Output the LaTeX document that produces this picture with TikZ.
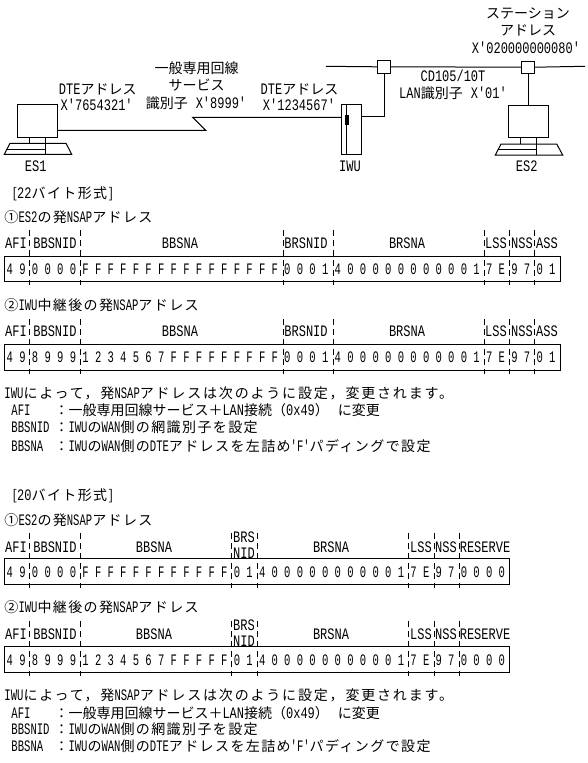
\documentclass[tikz,border=0pt]{standalone}
\usepackage{fontspec}
\setmainfont{Noto Sans CJK JP}
\newfontfamily\dsA[LetterSpace=10]{Noto Sans CJK JP}
\newfontfamily\dsB[LetterSpace=13]{Noto Sans CJK JP}
\newfontfamily\lf[FakeStretch=0.75]{Liberation Mono}
\newfontfamily\lfn[FakeStretch=0.66]{Liberation Mono}
\newfontfamily\dg[FakeStretch=0.657]{Liberation Mono}
\newcommand{\wl}[1]{{\fontsize{16}{16}\lf #1}}
\newcommand{\nl}[1]{{\fontsize{16}{16}\lfn #1}}
\begin{document}
\begin{tikzpicture}[x=1pt,y=-1pt,line width=1pt,
  txt/.style={inner sep=0pt,anchor=base,yshift=-5.5pt,font=\fontsize{14}{14}\selectfont},
  ltxt/.style={txt,anchor=base west},
  atxt/.style={ltxt,font=\fontsize{14}{14}\dsA},
  btxt/.style={ltxt,font=\fontsize{14}{14}\dsB},
  fld/.style={txt,font=\fontsize{16}{16}\lf},
  hexrow/.style={inner sep=0pt,anchor=base west,yshift=-5.5pt,font=\fontsize{16}{16}\dg},
  sep/.style={dash pattern=on 6pt off 4pt,line width=1pt},
  box/.style={draw,inner sep=0pt}]
\useasboundingbox (0,0) rectangle (588,763);
\fill[white] (0,0) rectangle (588,763);
% ES1
\draw (17.3,104.3) rectangle (57.7,137);
\coordinate (w0) at (57.7,130.3);
\draw (29.3,137) -- (29.3,143.3) (45.3,137) -- (45.3,154.3);
\draw (10,143.3) -- (66,143.3) -- (71.7,154.3) -- (4.3,154.3) -- cycle;
\draw (7,149.3) -- (45.3,149.3);
% WAN
\coordinate (w1) at (205.7,130.3);
\coordinate (w2) at (192.7,117.3);
\coordinate (w3) at (341.3,117.3);
\draw (w0) -- (w1) -- (w2) -- (w3);
% IWU
\draw (341.3,104.3) rectangle (361,154.3);
\draw (346.3,104.3) -- (346.3,154.3);
\fill (345.3,115) rectangle (349,125);
% LAN
\node[box,minimum width=13.4pt,minimum height=13pt] (tap1) at (384,66.8) {};
\node[box,minimum width=13pt,minimum height=11.7pt] (tap2) at (528.2,67.2) {};
\coordinate (busL) at (326,66.3);
\coordinate (busR) at (585,66.3);
\draw (busL) -- (tap1.west) (tap1.east) -- (tap2.west) (tap2.east) -- (busR);
\coordinate (i1) at (361,116.5);
\draw (i1) -| (tap1.south);
\coordinate (m2) at (tap2.south |- 0,105.3);
\draw (tap2.south) -- (m2);
% ES2
\draw (508.3,105.3) rectangle (548.3,137);
\draw (520.3,137) -- (520.3,144) (536.3,137) -- (536.3,155);
\draw (501,144) -- (556.7,144) -- (562.7,155) -- (495.3,155) -- cycle;
\draw (498,149.7) -- (536.3,149.7);
% diagram labels
\node[txt] (l1) at (97.7,89) {\wl{DTE}アドレス};
\node[txt] (l2) at (96.7,105.3) {\wl{X'7654321'}};
\node[txt] (l3) at (196.7,68.3) {一般専用回線};
\node[txt] (l4) at (196.7,85) {サービス};
\node[txt] (l5) at (196,102.7) {識別子\hspace{8pt}\wl{X'8999'}};
\node[txt] (l6) at (299.5,89) {\wl{DTE}アドレス};
\node[txt] (l7) at (299,105) {\wl{X'1234567'}};
\node[txt] (l8) at (528,13) {ステーション};
\node[txt] (l9) at (528,30) {アドレス};
\node[txt] (l10) at (526,48) {\wl{X'020000000080'}};
\node[txt] (l11) at (453,76) {\wl{CD105/10T}};
\node[txt] (l12) at (453,92.7) {\wl{LAN}識別子\hspace{8pt}\wl{X'01'}};
\node[txt] (es1) at (35.7,165.7) {\wl{ES1}};
\node[txt] (iwu) at (350,166) {\wl{IWU}};
\node[txt] (es2) at (526.7,166) {\wl{ES2}};
% 22 byte
\node[atxt] (h22) at (12,193) {[\wl{22}バイト形式]};
\node[atxt] (a1) at (4,217) {①\nl{ES2}の発\nl{NSAP}アドレス};
\node[atxt] (a2) at (4,305) {②\nl{IWU}中継後の発\nl{NSAP}アドレス};
\foreach \yy/\n in {243/a,331/b}{
  \node[fld] (\n f1) at (16,\yy) {AFI};
  \node[fld] (\n f2) at (55,\yy) {BBSNID};
  \node[fld] (\n f3) at (180,\yy) {BBSNA};
  \node[fld] (\n f4) at (306,\yy) {BRSNID};
  \node[fld] (\n f5) at (407,\yy) {BRSNA};
  \node[fld] (\n f6) at (496,\yy) {LSS};
  \node[fld] (\n f7) at (522,\yy) {NSS};
  \node[fld] (\n f8) at (547,\yy) {ASS};
}
\draw (4.5,256) rectangle (560,281);
\draw (4.5,344) rectangle (560,370);
\foreach \xx in {29.3,80.3,283.3,333,484.3,509.3,534.7}{
  \draw[sep] (\xx,230) -- (\xx,285);
  \draw[sep] (\xx,319) -- (\xx,374);
}
\node[hexrow] (r1) at (6.2,268.5) {4 9 0 0 0 0 F F F F F F F F F F F F F F F F 0 0 0 1 4 0 0 0 0 0 0 0 0 0 0 1 7 E 9 7 0 1};
\node[hexrow] (r2) at (6.2,357) {4 9 8 9 9 9 1 2 3 4 5 6 7 F F F F F F F F F 0 0 0 1 4 0 0 0 0 0 0 0 0 0 0 1 7 E 9 7 0 1};
\node[btxt] (t1) at (4,393) {\nl{IWU}によって，発\nl{NSAP}アドレスは次のように設定，変更されます。};
\node[ltxt] (t2) at (11,410) {\nl{AFI}};
\node[ltxt] (t2b) at (54,410) {：一般専用回線サービス＋\wl{LAN}接続（\wl{0x49}）\hspace{9pt}に変更};
\node[ltxt] (t3) at (11,427) {\nl{BBSNID}};
\node[atxt] (t3b) at (54,427) {：\nl{IWU}の\nl{WAN}側の網識別子を設定};
\node[ltxt] (t4) at (11,445.7) {\nl{BBSNA}};
\node[atxt] (t4b) at (54,445.7) {：\nl{IWU}の\nl{WAN}側の\nl{DTE}アドレスを左詰め\nl{'F'}パディングで設定};
% 20 byte
\node[atxt] (h20) at (12,495) {[\wl{20}バイト形式]};
\node[atxt] (c1) at (4,520) {①\nl{ES2}の発\nl{NSAP}アドレス};
\node[atxt] (c2) at (4,607) {②\nl{IWU}中継後の発\nl{NSAP}アドレス};
\foreach \yy/\n/\bt/\bb in {547/c/537/553,634/d/625/641}{
  \node[fld] (\n f1) at (16,\yy) {AFI};
  \node[fld] (\n f2) at (55,\yy) {BBSNID};
  \node[fld] (\n f3) at (154,\yy) {BBSNA};
  \node[fld] (\n f4) at (244,\bt) {BRS};
  \node[fld] (\n f4b) at (244,\bb) {NID};
  \node[fld] (\n f5) at (331,\yy) {BRSNA};
  \node[fld] (\n f6) at (421,\yy) {LSS};
  \node[fld] (\n f7) at (446,\yy) {NSS};
  \node[fld] (\n f8) at (485,\yy) {RESERVE};
}
\draw (4.5,558.7) rectangle (509.3,584.3);
\draw (4.5,646.3) rectangle (509.3,672.3);
\foreach \xx in {29.3,80.3,231,257.7,408.3,434,459.7}{
  \draw[sep] (\xx,533) -- (\xx,588);
  \draw[sep] (\xx,621) -- (\xx,676);
}
\node[hexrow] (r3) at (6.2,571.5) {4 9 0 0 0 0 F F F F F F F F F F F F 0 1 4 0 0 0 0 0 0 0 0 0 0 1 7 E 9 7 0 0 0 0};
\node[hexrow] (r4) at (6.2,659.5) {4 9 8 9 9 9 1 2 3 4 5 6 7 F F F F F 0 1 4 0 0 0 0 0 0 0 0 0 0 1 7 E 9 7 0 0 0 0};
\node[btxt] (t5) at (4,695) {\nl{IWU}によって，発\nl{NSAP}アドレスは次のように設定，変更されます。};
\node[ltxt] (t6) at (11,712.5) {\nl{AFI}};
\node[ltxt] (t6b) at (54,712.5) {：一般専用回線サービス＋\wl{LAN}接続（\wl{0x49}）\hspace{9pt}に変更};
\node[ltxt] (t7) at (11,729) {\nl{BBSNID}};
\node[atxt] (t7b) at (54,729) {：\nl{IWU}の\nl{WAN}側の網識別子を設定};
\node[ltxt] (t8) at (11,746) {\nl{BBSNA}};
\node[atxt] (t8b) at (54,746) {：\nl{IWU}の\nl{WAN}側の\nl{DTE}アドレスを左詰め\nl{'F'}パディングで設定};
\end{tikzpicture}
\end{document}
